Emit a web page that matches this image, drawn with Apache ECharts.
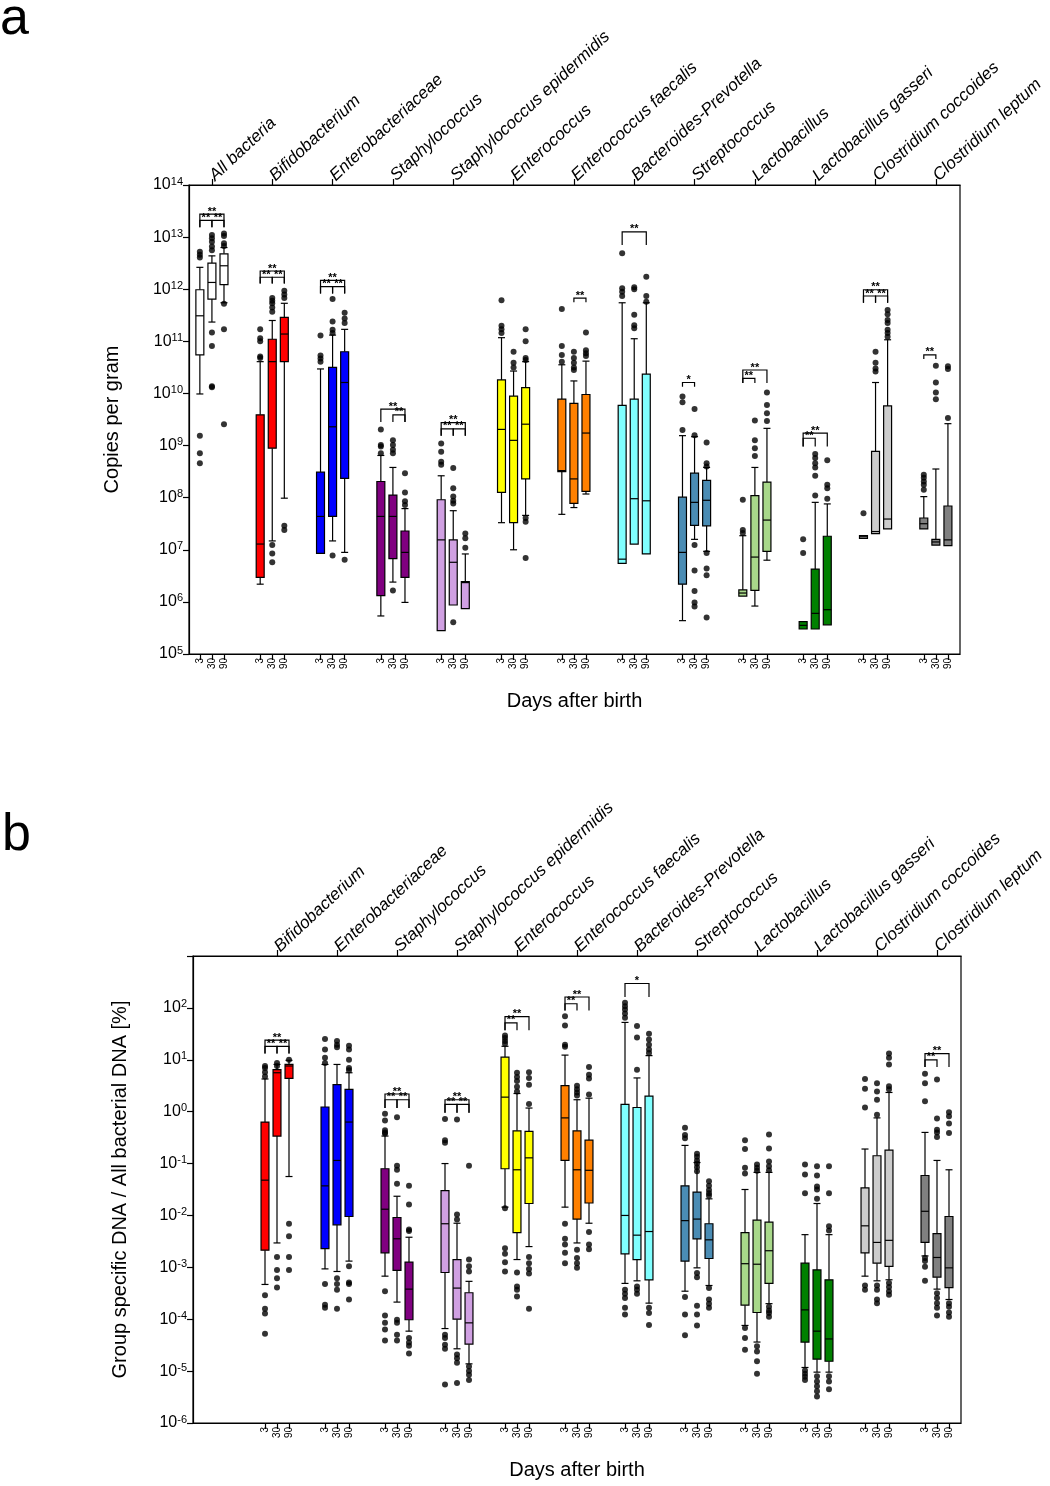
<!DOCTYPE html>
<html>
<head>
<meta charset="utf-8">
<script src="https://cdn.jsdelivr.net/npm/echarts@6/dist/echarts.min.js"></script>
<style>
html, body { margin: 0; padding: 0; background: #fff; }
#main { width: 1050px; height: 1486px; }
</style>
</head>
<body>
<div id="main"></div>
<script>
// 出生后天数, 每组三个箱子
var days = ['3', '30', '90'];
var dayOffset = [-0.2, 0, 0.2];

var taxa = ['All bacteria', 'Bifidobacterium', 'Enterobacteriaceae', 'Staphylococcus',
	'Staphylococcus epidermidis', 'Enterococcus', 'Enterococcus faecalis', 'Bacteroides-Prevotella',
	'Streptococcus', 'Lactobacillus', 'Lactobacillus gasseri', 'Clostridium coccoides', 'Clostridium leptum'];

var colors = ['#ffffff', '#ff0000', '#0000ff', '#800080', '#d0a0e2', '#ffff00', '#ff8000',
	'#80ffff', '#4a8cb4', '#a8d88a', '#008000', '#cccccc', '#808080'];

// a: 每克拷贝数, [下须, Q1, 中位数, Q3, 上须] 取 log10
var boxA = [
	[[9.99, 10.74, 11.49, 11.99, 12.42], [11.37, 11.81, 12.13, 12.50, 12.64], [11.74, 12.09, 12.45, 12.68, 12.80]],
	[[6.34, 6.47, 7.11, 9.59, 10.61], [7.17, 8.95, 10.61, 11.04, 11.40], [7.99, 10.61, 11.14, 11.46, 11.73]],
	[[6.93, 6.93, 7.64, 8.49, 10.47], [7.17, 7.64, 9.36, 10.50, 11.12], [6.95, 8.37, 10.21, 10.80, 11.23]],
	[[5.73, 6.12, 7.64, 8.31, 8.81], [6.38, 6.83, 7.64, 8.05, 8.58], [5.99, 6.47, 6.95, 7.36, 7.79]],
	[[5.45, 5.45, 7.19, 7.96, 8.42], [5.94, 5.94, 6.76, 7.19, 7.75], [5.87, 5.87, 6.37, 6.39, 6.92]],
	[[7.52, 8.10, 9.31, 10.26, 11.07], [7.00, 7.52, 9.10, 9.95, 10.43], [7.66, 8.36, 9.41, 10.11, 10.61]],
	[[7.68, 8.50, 8.52, 9.89, 10.55], [7.81, 7.89, 8.36, 9.81, 10.24], [8.07, 8.12, 9.24, 9.98, 10.62]],
	[[6.74, 6.74, 6.82, 9.77, 11.74], [7.11, 7.11, 7.98, 9.89, 11.05], [6.92, 6.92, 7.94, 10.37, 11.74]],
	[[5.64, 6.34, 6.95, 8.01, 9.19], [7.20, 7.47, 7.91, 8.47, 9.17], [6.97, 7.46, 7.95, 8.33, 8.58]],
	[[6.11, 6.11, 6.17, 6.23, 7.27], [5.92, 6.22, 6.86, 8.04, 8.58], [6.80, 6.97, 7.57, 8.30, 9.33]],
	[[5.48, 5.48, 5.55, 5.62, 5.62], [5.48, 5.48, 5.78, 6.63, 7.91], [5.56, 5.56, 5.85, 7.26, 7.88]],
	[[7.22, 7.22, 7.25, 7.27, 7.27], [7.31, 7.31, 7.35, 8.89, 10.21], [7.40, 7.40, 7.59, 9.76, 11.03]],
	[[7.40, 7.40, 7.50, 7.61, 8.02], [7.09, 7.09, 7.15, 7.20, 8.55], [7.08, 7.08, 7.19, 7.84, 9.42]]
];

// a: 离群点 (log10)
var outA = [
	[[12.72, 12.66, 12.61, 9.19, 8.85, 8.66], [13.04, 12.98, 12.91, 12.82, 12.75, 11.17, 10.91, 10.14, 10.12], [13.07, 13.02, 12.88, 12.83, 11.72, 11.23, 9.41]],
	[[11.23, 11.06, 11.00, 10.71, 10.68], [11.83, 11.78, 11.73, 11.65, 11.57, 7.09, 6.93, 6.76], [11.97, 11.90, 11.83, 7.46, 7.38]],
	[[11.11, 10.73, 10.67, 10.61], [11.81, 11.38, 11.22, 11.16, 6.89], [11.55, 11.44, 11.35, 6.81]],
	[[9.31, 9.01, 8.98, 8.85], [9.10, 9.01, 8.92, 8.85, 6.22], [8.47, 8.10, 7.93, 7.86]],
	[[9.04, 8.88, 8.69, 8.63], [8.57, 8.18, 8.02, 7.94, 7.89, 5.61], [7.31, 7.22, 7.04]],
	[[11.79, 11.30, 11.23, 11.16], [10.80, 10.59, 10.50], [11.23, 11.00, 10.68, 10.64, 7.61, 7.54, 6.84]],
	[[11.62, 10.91, 10.74, 10.61], [10.80, 10.68, 10.59, 10.50, 10.45], [11.17, 10.83, 10.77, 10.72]],
	[[12.69, 12.02, 11.95, 11.87], [12.04, 12.00, 11.51, 11.31, 11.25], [12.24, 11.87, 11.76]],
	[[9.94, 9.83, 9.30], [9.70, 9.20, 7.09, 6.60, 6.21, 5.99, 5.91], [9.06, 8.66, 8.60, 6.94, 6.64, 6.51, 5.70]],
	[[7.96, 7.38, 7.32], [9.48, 9.10, 8.95, 8.80], [10.02, 9.78, 9.62, 9.47]],
	[[7.20, 6.94], [8.84, 8.76, 8.66, 8.58, 8.42, 8.04], [8.72, 8.25, 8.18, 7.98]],
	[[7.70], [10.80, 10.59, 10.48, 10.42], [11.60, 11.52, 11.41, 11.35, 11.22, 11.16, 11.09]],
	[[8.44, 8.38, 8.31, 8.25, 8.15], [10.53, 10.21, 10.02, 9.89], [10.52, 10.47, 9.53]]
];

// b: 占总细菌 DNA 百分比 (log10), 从 Bifidobacterium 开始
var boxB = [
	[[-3.33, -2.67, -1.32, -0.20, 0.63], [-2.53, -0.47, 0.75, 0.81, 0.91], [-1.25, 0.64, 0.88, 0.91, 0.99]],
	[[-3.03, -2.64, -1.43, 0.09, 0.91], [-3.08, -2.18, -0.94, 0.52, 0.91], [-2.88, -2.02, -0.20, 0.43, 0.75]],
	[[-3.17, -2.72, -1.88, -1.10, -0.47], [-3.67, -3.06, -2.45, -2.04, -1.63], [-4.23, -4.01, -3.42, -2.90, -2.42]],
	[[-4.18, -3.10, -2.16, -1.52, -1.00], [-4.57, -4.00, -3.40, -2.85, -2.15], [-4.86, -4.48, -4.07, -3.49, -3.27]],
	[[-1.84, -1.10, 0.28, 1.05, 1.26], [-2.85, -2.33, -1.12, -0.37, 0.35], [-2.60, -1.77, -0.89, -0.38, 0.07]],
	[[-1.84, -0.94, -0.12, 0.50, 1.09], [-2.53, -2.07, -1.12, -0.37, 0.23], [-2.15, -1.76, -1.13, -0.55, 0.26]],
	[[-3.31, -2.74, -2.00, 0.14, 1.72], [-3.26, -2.85, -2.38, 0.08, 0.65], [-3.69, -3.24, -2.31, 0.30, 1.08]],
	[[-3.46, -2.88, -2.10, -1.43, -0.65], [-3.01, -2.45, -2.07, -1.55, -0.98], [-3.35, -2.83, -2.47, -2.16, -1.68]],
	[[-4.12, -3.73, -2.93, -2.33, -1.50], [-4.44, -3.87, -2.94, -2.09, -1.17], [-3.70, -3.31, -2.68, -2.13, -1.17]],
	[[-4.93, -4.44, -3.82, -2.92, -2.37], [-5.02, -4.77, -4.23, -3.05, -1.77], [-5.02, -4.81, -4.38, -3.24, -2.37]],
	[[-3.17, -2.72, -2.20, -1.47, -0.72], [-3.26, -2.92, -2.52, -0.85, -0.12], [-3.24, -2.98, -2.48, -0.74, 0.37]],
	[[-2.78, -2.52, -1.92, -1.23, -0.40], [-3.42, -3.19, -2.81, -2.35, -0.94], [-3.62, -3.39, -3.01, -2.02, -1.12]]
];

var outB = [
	[[0.88, 0.84, 0.76, 0.68, -3.54, -3.80, -3.89, -4.28], [0.94, 0.88, -2.80, -3.05, -3.21, -3.39], [1.00, -2.16, -2.40, -2.80, -3.05]],
	[[1.40, 1.20, 1.04, 0.94, -3.32, -3.72, -3.78], [1.36, 1.29, 1.24, -3.21, -3.32, -3.43, -3.80], [1.27, 1.20, 1.00, 0.84, 0.80, -2.98, -3.29, -3.32, -3.62]],
	[[-0.04, -0.17, -0.36, -0.40, -0.42, -3.46, -3.93, -4.07, -4.20, -4.41], [-0.11, -1.04, -1.12, -1.39, -4.01, -4.07, -4.30, -4.41], [-1.43, -1.79, -2.27, -2.30, -4.36, -4.45, -4.51, -4.66]],
	[[-0.14, -0.55, -0.60, -4.30, -4.36, -4.49, -4.57, -5.26], [-0.15, -1.98, -2.08, -4.68, -4.75, -4.84, -5.23], [-1.04, -2.85, -2.98, -3.08, -4.91, -5.00, -5.07, -5.17]],
	[[1.47, 1.42, 1.36, 1.31, -1.86, -2.63, -2.74, -2.90, -3.08], [0.75, 0.67, 0.59, 0.48, 0.39, -3.10, -3.37, -3.43, -3.56], [0.76, 0.65, 0.52, 0.15, -2.80, -2.92, -3.03, -3.12, -3.80]],
	[[1.84, 1.66, 1.29, 1.25, -2.16, -2.45, -2.56, -2.72, -2.92], [0.50, 0.43, 0.37, 0.31, -2.66, -2.82, -2.92, -3.01], [0.86, 0.71, 0.64, 0.33, -2.32, -2.56, -2.65]],
	[[2.10, 2.03, 1.97, 1.89, 1.81, -3.43, -3.51, -3.59, -3.78, -3.91], [1.65, 1.43, 0.81, -3.37, -3.43, -3.51], [1.50, 1.39, 1.29, 1.20, 1.13, -3.78, -3.88, -4.11]],
	[[-0.31, -0.45, -0.51, -3.57, -3.91, -4.31], [-0.81, -0.87, -0.94, -1.00, -1.07, -1.15, -3.11, -3.19, -3.74, -3.91, -4.12], [-1.34, -1.43, -1.51, -1.57, -1.62, -3.40, -3.62, -3.70, -3.78]],
	[[-0.55, -0.72, -1.08, -1.19, -4.17, -4.36, -4.59], [-1.02, -1.08, -1.14, -4.52, -4.62, -4.81, -5.05], [-0.44, -0.71, -0.96, -1.05, -1.13, -3.76, -3.83, -3.88, -3.95]],
	[[-1.02, -1.21, -1.57, -4.99, -5.05, -5.11, -5.17], [-1.05, -1.23, -1.44, -1.50, -1.68, -5.10, -5.20, -5.29, -5.39, -5.49], [-1.05, -1.57, -2.21, -2.29, -5.10, -5.20, -5.35]],
	[[0.63, 0.44, 0.08, -3.35, -3.43], [0.55, 0.39, 0.23, -0.06, -3.35, -3.43, -3.62, -3.69], [1.12, 1.04, 0.91, 0.49, 0.43, -3.30, -3.38, -3.46, -3.53]],
	[[0.73, 0.55, 0.20, -2.82, -2.88, -2.99, -3.26], [0.62, -0.13, -0.35, -0.40, -0.49, -3.50, -3.59, -3.69, -3.78, -3.93], [-0.01, -0.09, -0.23, -0.41, -3.69, -3.76, -3.87, -3.95]]
];

// 显著性标记: [组, 起点天, 终点天, 横线 log10, 竖线下端 log10, 星号数]
var sigA = [
	[0, 0, 2, 13.44, 13.19, 2], [0, 0, 1, 13.32, 13.19, 2], [0, 1, 2, 13.32, 13.19, 2],
	[1, 0, 2, 12.35, 12.11, 2], [1, 0, 1, 12.23, 12.11, 2], [1, 1, 2, 12.23, 12.11, 2],
	[2, 0, 2, 12.17, 11.92, 2], [2, 0, 1, 12.05, 11.92, 2], [2, 1, 2, 12.05, 11.92, 2],
	[3, 0, 2, 9.70, 9.45, 2], [3, 1, 2, 9.59, 9.45, 2],
	[4, 0, 2, 9.44, 9.19, 2], [4, 0, 1, 9.32, 9.19, 2], [4, 1, 2, 9.32, 9.19, 2],
	[6, 1, 2, 11.83, 11.75, 2],
	[7, 0, 2, 13.10, 12.85, 2],
	[8, 0, 1, 10.21, 10.13, 1],
	[9, 0, 2, 10.45, 10.20, 2], [9, 0, 1, 10.29, 10.20, 2],
	[10, 0, 2, 9.24, 8.98, 2], [10, 0, 1, 9.14, 8.98, 2],
	[11, 0, 2, 11.99, 11.74, 2], [11, 0, 1, 11.87, 11.74, 2], [11, 1, 2, 11.87, 11.74, 2],
	[12, 0, 1, 10.74, 10.66, 2]
];
var sigB = [
	[1, 0, 2, 1.38, 1.12, 2], [1, 0, 1, 1.26, 1.12, 2], [1, 1, 2, 1.26, 1.12, 2],
	[3, 0, 2, 0.34, 0.07, 2], [3, 0, 1, 0.23, 0.07, 2], [3, 1, 2, 0.23, 0.07, 2],
	[4, 0, 2, 0.23, -0.02, 2], [4, 0, 1, 0.14, -0.02, 2], [4, 1, 2, 0.14, -0.02, 2],
	[5, 0, 2, 1.83, 1.57, 2], [5, 0, 1, 1.71, 1.57, 2],
	[6, 0, 2, 2.21, 1.95, 2], [6, 0, 1, 2.08, 1.95, 2],
	[7, 0, 2, 2.47, 2.21, 1],
	[12, 0, 2, 1.12, 0.86, 2], [12, 0, 1, 1.00, 0.86, 2]
];

var FONT = '"Liberation Sans", Arial, Helvetica, sans-serif';
var BOX_HALF = 0.066;

function pw(e) { return Math.pow(10, e); }

// 箱子数据, first = 第一组的序号
function boxSeriesData(boxes, first) {
	var data = [];
	boxes.forEach(function(g, i) {
		g.forEach(function(b, d) {
			data.push([first + i + dayOffset[d], pw(b[0]), pw(b[1]), pw(b[2]), pw(b[3]), pw(b[4]), first + i]);
		});
	});
	return data;
}
function outSeriesData(outs, first) {
	var data = [];
	outs.forEach(function(g, i) {
		g.forEach(function(list, d) {
			list.forEach(function(v) {
				data.push([first + i + dayOffset[d], pw(v)]);
			});
		});
	});
	return data;
}
function sigSeriesData(sigs) {
	return sigs.map(function(s) {
		return [s[0] + dayOffset[s[1]], s[0] + dayOffset[s[2]], pw(s[3]), pw(s[4]), s[5]];
	});
}

function renderBox(params, api) {
	var x = api.value(0);
	var lo = api.coord([x, api.value(1)]);
	var q1 = api.coord([x, api.value(2)]);
	var md = api.coord([x, api.value(3)]);
	var q3 = api.coord([x, api.value(4)]);
	var hi = api.coord([x, api.value(5)]);
	var left = api.coord([x - BOX_HALF, api.value(3)])[0];
	var right = api.coord([x + BOX_HALF, api.value(3)])[0];
	var cx = lo[0];
	var cap = 3.5;
	var kids = [];
	function ln(x1, y1, x2, y2) {
		kids.push({ type: 'line', shape: { x1: x1, y1: y1, x2: x2, y2: y2 },
			style: { stroke: '#000', lineWidth: 1.2 } });
	}
	if (hi[1] < q3[1] - 0.5) {
		ln(cx, q3[1], cx, hi[1]);
		ln(cx - cap, hi[1], cx + cap, hi[1]);
	}
	if (lo[1] > q1[1] + 0.5) {
		ln(cx, q1[1], cx, lo[1]);
		ln(cx - cap, lo[1], cx + cap, lo[1]);
	}
	var h = Math.max(q1[1] - q3[1], 2.5);
	kids.push({ type: 'rect', shape: { x: left, y: q3[1], width: right - left, height: h },
		style: { fill: colors[api.value(6)], stroke: '#000', lineWidth: 1.2 } });
	ln(left, md[1], right, md[1]);
	return { type: 'group', children: kids };
}

function renderSig(params, api) {
	var a = api.coord([api.value(0), api.value(2)]);
	var b = api.coord([api.value(1), api.value(2)]);
	var a0 = api.coord([api.value(0), api.value(3)]);
	var b0 = api.coord([api.value(1), api.value(3)]);
	return { type: 'group', children: [
		{ type: 'polyline', shape: { points: [[a0[0], a0[1]], [a[0], a[1]], [b[0], b[1]], [b0[0], b0[1]]] },
			style: { stroke: '#000', lineWidth: 1.2, fill: 'none' } },
		{ type: 'text', style: { text: api.value(4) == 1 ? '*' : '**', x: (a[0] + b[0]) / 2, y: a[1] + 3,
			align: 'center', verticalAlign: 'bottom', fontSize: 11, fontWeight: 'bold', fontFamily: FONT, fill: '#000' } }
	] };
}

function dayLabel(v) {
	var off = Math.round((v - Math.round(v)) * 10);
	return off < 0 ? days[0] : (off === 0 ? days[1] : days[2]);
}

var ticksA = [], ticksB = [], centersA = [], centersB = [];
taxa.forEach(function(t, i) {
	centersA.push(i);
	if (i > 0) centersB.push(i);
	dayOffset.forEach(function(o) {
		ticksA.push(i + o);
		if (i > 0) ticksB.push(i + o);
	});
});

var axisLineStyle = { color: '#000', width: 1.2 };

function bottomAxis(grid, min, ticks) {
	return {
		type: 'value', gridIndex: grid, position: 'bottom', min: min, max: 12.4,
		splitLine: { show: false },
		axisLine: { onZero: false, lineStyle: axisLineStyle },
		axisTick: { customValues: ticks, length: 6, lineStyle: axisLineStyle },
		axisLabel: { customValues: ticks, rotate: 90, margin: 4, fontSize: 10, color: '#000',
			fontFamily: FONT, formatter: dayLabel },
		name: 'Days after birth', nameLocation: 'middle', nameGap: 37,
		nameTextStyle: { fontSize: 20, color: '#000', fontFamily: FONT }
	};
}
function topAxis(grid, min, centers) {
	return {
		type: 'value', gridIndex: grid, position: 'top', min: min, max: 12.4,
		splitLine: { show: false },
		axisLine: { onZero: false, lineStyle: axisLineStyle },
		axisTick: { customValues: centers, length: 6, lineStyle: axisLineStyle },
		axisLabel: { customValues: centers, rotate: -43, margin: 7, fontSize: 17, fontStyle: 'italic',
			color: '#000', fontFamily: FONT, formatter: function(v) { return taxa[Math.round(v)]; } }
	};
}
function logAxis(grid, min, max, name, gap) {
	return {
		type: 'log', logBase: 10, gridIndex: grid, min: min, max: max, splitNumber: 9,
		splitLine: { show: false },
		minorTick: { show: false },
		axisLine: { show: true, onZero: false, lineStyle: axisLineStyle },
		axisTick: { show: true, length: 6, lineStyle: axisLineStyle },
		axisLabel: {
			margin: 6, color: '#000', fontFamily: FONT, fontSize: 16,
			formatter: function(v) {
				var e = Math.round(Math.log(v) / Math.LN10);
				if (e > 2 && max < 1e4) return '';
				return '{b|10}{s|' + e + '}';
			},
			rich: {
				b: { fontSize: 16, color: '#000', fontFamily: FONT, lineHeight: 18 },
				s: { fontSize: 11, color: '#000', fontFamily: FONT, verticalAlign: 'top', lineHeight: 12 }
			}
		},
		name: name, nameLocation: 'middle', nameGap: gap,
		nameTextStyle: { fontSize: 20, color: '#000', fontFamily: FONT }
	};
}

var option = {
	animation: false,
	backgroundColor: '#fff',
	textStyle: { fontFamily: FONT },
	graphic: [
		{ type: 'text', left: 0, top: -6, style: { text: 'a', fontSize: 52, fontFamily: FONT, fill: '#000' } },
		{ type: 'text', left: 2, top: 810, style: { text: 'b', fontSize: 52, fontFamily: FONT, fill: '#000' } }
	],
	grid: [
		{ left: 189, top: 185, width: 771, height: 469, show: true, borderColor: '#000', borderWidth: 1.2 },
		{ left: 193, top: 956, width: 768, height: 467, show: true, borderColor: '#000', borderWidth: 1.2 }
	],
	xAxis: [
		bottomAxis(0, -0.38, ticksA), topAxis(0, -0.38, centersA),
		bottomAxis(1, -0.4, ticksB), topAxis(1, -0.4, centersB)
	],
	yAxis: [
		logAxis(0, 1e5, 1e14, 'Copies per gram', 67),
		logAxis(1, 1e-6, 1e3, 'Group specific DNA / All bacterial DNA [%]', 63)
	],
	series: [
		{ type: 'custom', xAxisIndex: 0, yAxisIndex: 0, renderItem: renderBox, z: 2,
			encode: { x: 0, y: [1, 2, 3, 4, 5] }, data: boxSeriesData(boxA, 0) },
		{ type: 'scatter', xAxisIndex: 0, yAxisIndex: 0, symbolSize: 6, z: 3,
			itemStyle: { color: '#000' }, data: outSeriesData(outA, 0) },
		{ type: 'custom', xAxisIndex: 0, yAxisIndex: 0, renderItem: renderSig, z: 3,
			encode: { x: [0, 1], y: [2, 3] }, data: sigSeriesData(sigA) },
		{ type: 'custom', xAxisIndex: 2, yAxisIndex: 1, renderItem: renderBox, z: 2,
			encode: { x: 0, y: [1, 2, 3, 4, 5] }, data: boxSeriesData(boxB, 1) },
		{ type: 'scatter', xAxisIndex: 2, yAxisIndex: 1, symbolSize: 6, z: 3,
			itemStyle: { color: '#000' }, data: outSeriesData(outB, 1) },
		{ type: 'custom', xAxisIndex: 2, yAxisIndex: 1, renderItem: renderSig, z: 3,
			encode: { x: [0, 1], y: [2, 3] }, data: sigSeriesData(sigB) }
	]
};

var chart = echarts.init(document.getElementById('main'));
chart.setOption(option);
</script>
</body>
</html>
